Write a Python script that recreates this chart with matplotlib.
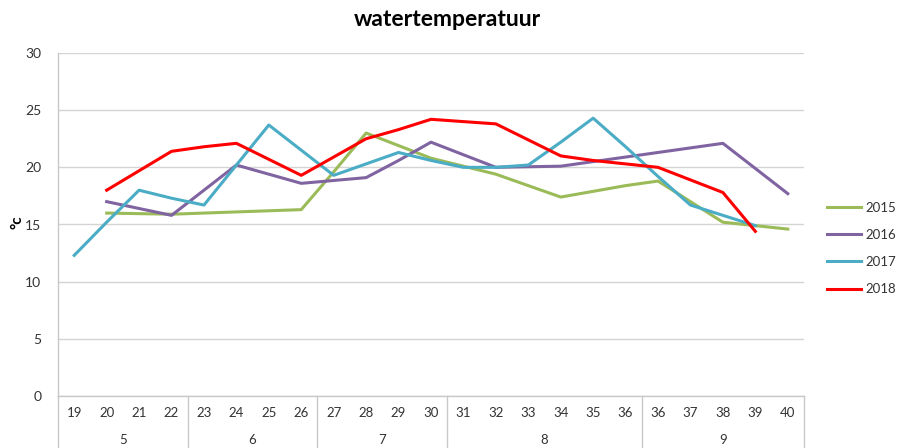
import matplotlib
matplotlib.use("Agg")
import matplotlib.pyplot as plt
import numpy as np

weeks = ["19", "20", "21", "22", "23", "24", "25", "26", "27", "28", "29", "30",
         "31", "32", "33", "34", "35", "36", "36", "37", "38", "39", "40"]
months = ["5", "6", "7", "8", "9"]
month_sizes = [4, 4, 4, 6, 5]

nan = np.nan
y2015 = [nan, 16.0, 15.95, 15.9, 16.0, 16.1, 16.2, 16.3, 19.6, 23.0, 21.9, 20.8,
         20.1, 19.4, 18.4, 17.4, 17.9, 18.4, 18.8, 17.0, 15.2, 14.9, 14.6]
y2016 = [nan, 17.0, 16.4, 15.8, 18.0, 20.2, 19.4, 18.6, 18.85, 19.1, 20.6, 22.2,
         21.1, 20.0, 20.05, 20.1, 20.5, 20.9, 21.3, 21.7, 22.1, 19.9, 17.7]
y2017 = [12.3, 15.2, 18.0, 17.3, 16.7, 20.2, 23.7, 21.5, 19.3, 20.3, 21.3, 20.6,
         20.0, 20.0, 20.2, 22.2, 24.3, 21.8, 19.2, 16.7, 15.8, 14.9, nan]
y2018 = [nan, 18.0, 19.7, 21.4, 21.8, 22.1, 20.7, 19.3, 20.9, 22.5, 23.3, 24.2,
         24.0, 23.8, 22.4, 21.0, 20.6, 20.3, 20.0, 18.9, 17.8, 14.4, nan]

series = [("2015", y2015, "#9bbb59"), ("2016", y2016, "#8064a2"),
          ("2017", y2017, "#4bacc6"), ("2018", y2018, "#ff0000")]

plt.rcParams['font.family'] = ['Lato', 'DejaVu Sans']

W, H = 898, 448
fig = plt.figure(figsize=(W / 100, H / 100), dpi=100)
L, R, T, B = 58, 804, 53, 396
ax = fig.add_axes([L / W, (H - B) / H, (R - L) / W, (B - T) / H])

x = np.arange(len(weeks))
for name, vals, col in series:
    ax.plot(x, vals, color=col, lw=2.2, label=name, solid_joinstyle='round')

ax.set_xlim(-0.5, len(weeks) - 0.5)
ax.set_ylim(0, 30)
ax.set_yticks(range(0, 31, 5))
ax.tick_params(axis='y', length=0, pad=12, labelsize=10, labelcolor='#333333')
ax.set_xticks([])
ax.grid(axis='y', color='#d4d4d4', lw=1)
ax.set_axisbelow(True)
for s in ['top', 'right']:
    ax.spines[s].set_visible(False)
for s in ['left', 'bottom']:
    ax.spines[s].set_color('#c8c8c8')
    ax.spines[s].set_linewidth(1)

# week labels
row1_y = -(413 - B) / (B - T)
row2_y = -(440 - B) / (B - T)
bottom_y = -(H - B) / (B - T)
trans = ax.get_xaxis_transform()
for xi, wk in zip(x, weeks):
    ax.text(xi, row1_y, wk, transform=trans, ha='center', va='center',
            fontsize=9.5, color='#333333', clip_on=False)

# month labels & separators
start = 0
bounds = [-0.5]
for m, n in zip(months, month_sizes):
    center = start + (n - 1) / 2
    ax.text(center, row2_y, m, transform=trans, ha='center', va='center',
            fontsize=9.5, color='#333333', clip_on=False)
    start += n
    bounds.append(start - 0.5)
for b in bounds:
    ax.plot([b, b], [0, bottom_y], transform=trans, color='#c8c8c8', lw=1,
            clip_on=False)

fig.text(18 / W, 1 - 222 / H, "°c", rotation=90, ha='center', va='center',
         fontsize=11, fontweight='bold')
fig.text(447 / W, 1 - 20 / H, "watertemperatuur", ha='center', va='center',
         fontsize=16.5, fontweight='bold')

ax.legend(frameon=False, loc='center left', bbox_to_anchor=(1.015, 0.43),
          fontsize=9.5, handlelength=2.6, labelspacing=1.15, handletextpad=0.3,
          labelcolor='#333333')

fig.savefig("out.png", dpi=100)
